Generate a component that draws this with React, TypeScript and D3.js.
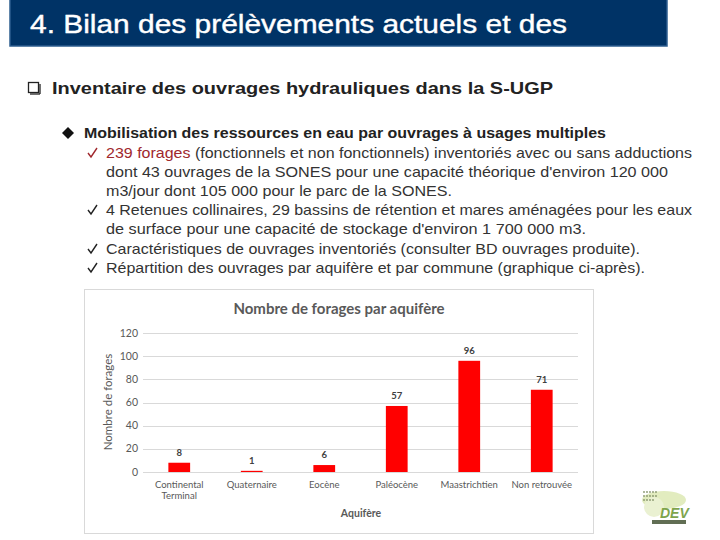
import React from "react";
import * as d3 from "d3";

const categories = ["Continental Terminal", "Quaternaire", "Eocène", "Paléocène", "Maastrichtien", "Non retrouvée"];
const categoryLines = [["Continental", "Terminal"], ["Quaternaire"], ["Eocène"], ["Paléocène"], ["Maastrichtien"], ["Non retrouvée"]];
const values = [8, 1, 6, 57, 96, 71];
const yTicks = [0, 20, 40, 60, 80, 100, 120];

const chartTitle = "Nombre de forages par aquifère";
const xTitle = "Aquifère";
const yTitle = "Nombre de forages";

const W = 720;
const H = 540;

export default function App() {
  const x = d3.scaleBand<string>().domain(categories).range([143, 578]).paddingInner(0.7).paddingOuter(0.35);
  const y = d3.scaleLinear().domain([0, 120]).range([472, 333]);
  const sans = "'Liberation Sans', Arial, sans-serif";
  const cal = "Lato, 'Open Sans', sans-serif";
  const txt = "#222";
  const lines = [
    { y: 158, len: 586, check: true },
    { y: 177, len: 562, check: false },
    { y: 196, len: 346, check: false },
    { y: 215, len: 586, check: true },
    { y: 234, len: 480, check: false },
    { y: 254, len: 534, check: true },
    { y: 273, len: 539, check: true },
  ];
  const contents = [
    null,
    "dont 43 ouvrages de la SONES  pour une capacité théorique d'environ 120 000",
    "m3/jour dont 105 000 pour le parc de la SONES.",
    "4 Retenues collinaires, 29 bassins de rétention et mares aménagées pour les eaux",
    "de surface pour une capacité de stockage d'environ 1 700 000  m3.",
    "Caractéristiques de ouvrages inventoriés (consulter BD ouvrages produite).",
    "Répartition des ouvrages par aquifère et par commune (graphique ci-après).",
  ];
  return (
    <svg width={W} height={H} style={{ position: "absolute", left: 0, top: 0, background: "#fff" }}>
      {/* Header */}
      <rect x={10} y={-2} width={657} height={48} fill="#003366" stroke="#2c5d8f" strokeWidth={1.5} />
      <text x={30} y={33} fill="#fff" fontFamily={sans} fontSize={26} stroke="#fff" strokeWidth={0.4} textLength={537} lengthAdjust="spacingAndGlyphs">
        4. Bilan des prélèvements actuels et des
      </text>

      {/* Level 1 */}
      <rect x={28.5} y={82.5} width={10} height={10} fill="none" stroke="#222" strokeWidth={1.3} />
      <line x1={30} y1={94} x2={40} y2={94} stroke="#222" strokeWidth={1.3} />
      <line x1={40} y1={84} x2={40} y2={94} stroke="#222" strokeWidth={1.3} />
      <text x={52} y={94} fill={txt} fontFamily={sans} fontWeight="bold" fontSize={17} textLength={501} lengthAdjust="spacingAndGlyphs">
        Inventaire des ouvrages hydrauliques dans la S-UGP
      </text>

      {/* Level 2 */}
      <path d="M68,127 L74,133 L68,139 L62,133 Z" fill="#111" />
      <text x={84} y={138} fill={txt} fontFamily={sans} fontWeight="bold" fontSize={15} textLength={522} lengthAdjust="spacingAndGlyphs">
        Mobilisation des ressources en eau par ouvrages à usages multiples
      </text>

      {/* Level 3 */}
      {lines.map((l, i) => (
        <g key={i}>
          {l.check && (
            <path d={`M88,${l.y - 5} L91,${l.y - 1} L97,${l.y - 10}`} fill="none" stroke={i === 0 ? "#a0282d" : "#222"} strokeWidth={1.4} />
          )}
          <text x={106} y={l.y} fill="#333" fontFamily={sans} fontSize={15} textLength={l.len} lengthAdjust="spacingAndGlyphs">
            {i === 0 ? (
              <>
                <tspan fill="#a0282d">239 forages</tspan>
                <tspan> (fonctionnels et non fonctionnels) inventoriés avec ou sans adductions</tspan>
              </>
            ) : (
              contents[i]
            )}
          </text>
        </g>
      ))}

      {/* Chart box */}
      <rect x={84.5} y={289.5} width={509} height={244} fill="#fff" stroke="#d9d9d9" strokeWidth={1} />
      <text x={339} y={314} textAnchor="middle" fill="#595959" fontFamily={cal} fontWeight="bold" fontSize={15}>
        {chartTitle}
      </text>
      {yTicks.map((t) => (
        <g key={t}>
          <line x1={143} x2={578} y1={Math.round(y(t)) + 0.5} y2={Math.round(y(t)) + 0.5} stroke="#d9d9d9" strokeWidth={1} />
          <text x={138} y={y(t) + 3.5} textAnchor="end" fill="#595959" fontFamily={cal} fontSize={10.5}>
            {t}
          </text>
        </g>
      ))}
      {categories.map((c, i) => (
        <g key={c}>
          <rect x={x(c)!} y={y(values[i])} width={x.bandwidth()} height={y(0) - y(values[i])} fill="#ff0000" />
          <text x={x(c)! + x.bandwidth() / 2} y={y(values[i]) - 7} textAnchor="middle" fill="#404040" fontFamily={cal} fontWeight="bold" fontSize={9.5}>
            {values[i]}
          </text>
          {categoryLines[i].map((ln, j) => (
            <text key={j} x={x(c)! + x.bandwidth() / 2} y={488 + j * 11} textAnchor="middle" fill="#595959" fontFamily={cal} fontSize={9.5}>
              {ln}
            </text>
          ))}
        </g>
      ))}
      <text x={361} y={517} textAnchor="middle" fill="#595959" fontFamily={cal} fontWeight="bold" fontSize={10.5}>
        {xTitle}
      </text>
      <text transform={`translate(112,402) rotate(-90)`} textAnchor="middle" fill="#595959" fontFamily={cal} fontSize={11.5}>
        {yTitle}
      </text>

      {/* Logo */}
      <g opacity={0.8}>
        <ellipse cx={664} cy={500} rx={22} ry={9} fill="#dbe8b0" />
        <ellipse cx={654} cy={507} rx={10} ry={10} fill="#e6eec8" />
        {d3.range(14).map((k) => (
          <circle key={k} cx={644 + (k % 5) * 3} cy={492 + Math.floor(k / 5) * 4} r={0.9} fill="#6b7d4a" />
        ))}
        <text x={660} y={518} fontFamily={sans} fontWeight="bold" fontStyle="italic" fontSize={14} fill="#5f8f1f">
          DEV
        </text>
        <rect x={652} y={520} width={34} height={4} fill="#3a4a2a" />
      </g>
    </svg>
  );
}
